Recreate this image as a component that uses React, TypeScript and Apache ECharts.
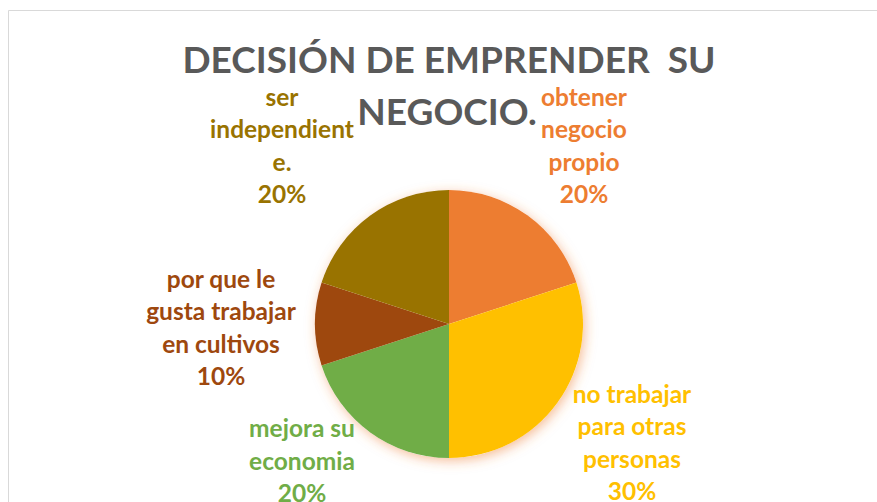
import React, { useEffect, useRef } from "react";
import * as echarts from "echarts";

const TITLE_LINES = ["DECISIÓN DE EMPRENDER  SU", "NEGOCIO."];
const CATEGORIES = [
  "obtener negocio propio",
  "no trabajar para otras personas",
  "mejora su economia",
  "por que le gusta trabajar en cultivos",
  "ser independiente.",
];
const VALUES = [20, 30, 20, 10, 20];
// label text as wrapped in the original
const WRAPPED = [
  "obtener\nnegocio\npropio",
  "no trabajar\npara otras\npersonas",
  "mejora su\neconomia",
  "por que le\ngusta trabajar\nen cultivos",
  "ser\nindependient\ne.",
];
const COLORS = ["#ED7D31", "#FFC000", "#70AD47", "#9E480E", "#997300"];
const LABEL_POS: [number, number][] = [
  [584, 145],
  [632, 442],
  [302, 460],
  [221, 327],
  [282, 145],
];

const FONT = "Lato, 'Open Sans', sans-serif";

export default function App() {
  const ref = useRef<HTMLDivElement>(null);
  useEffect(() => {
    const chart = echarts.init(ref.current!, undefined, { renderer: "svg" });
    const total = VALUES.reduce((a, b) => a + b, 0);
    chart.setOption({
      animation: false,
      backgroundColor: "#ffffff",
      graphic: [
        {
          type: "rect",
          shape: { x: 8.5, y: 10.5, width: 1000, height: 700 },
          style: { fill: "none", stroke: "#d9d9d9", lineWidth: 1 },
          z: 0,
        },
        {
          type: "text",
          x: 449,
          y: 58,
          style: {
            text: TITLE_LINES[0],
            fill: "#595959",
            font: `bold 37px ${FONT}`,
            textAlign: "center",
            textVerticalAlign: "middle",
          },
          z: 10,
        },
        {
          type: "text",
          x: 447,
          y: 110,
          style: {
            text: TITLE_LINES[1],
            fill: "#595959",
            font: `bold 37px ${FONT}`,
            textAlign: "center",
            textVerticalAlign: "middle",
          },
          z: 10,
        },
      ],
      series: [
        {
          type: "pie",
          silent: true,
          center: [449, 324],
          radius: 134,
          z: 1,
          label: { show: false },
          labelLine: { show: false },
          itemStyle: {
            color: "#ffffff",
            shadowBlur: 12,
            shadowColor: "rgba(237,125,49,0.5)",
            shadowOffsetX: 2,
            shadowOffsetY: 3,
          },
          data: [{ value: 1, name: "" }],
        },
        {
          type: "pie",
          center: [449, 324],
          radius: 134,
          startAngle: 90,
          clockwise: true,
          z: 2,
          itemStyle: { borderWidth: 0 },
          labelLine: { show: false },
          label: {
            show: true,
            position: "outside",
            fontFamily: FONT,
            fontWeight: "bold",
            fontSize: 24.5,
            lineHeight: 32.5,
            align: "center",
            formatter: (p: any) =>
              `${WRAPPED[p.dataIndex]}\n${Math.round((p.value / total) * 100)}%`,
          },
          labelLayout: (p: any) => ({
            x: LABEL_POS[p.dataIndex][0],
            y: LABEL_POS[p.dataIndex][1],
            align: "center",
            verticalAlign: "middle",
          }),
          data: CATEGORIES.map((name, i) => ({
            name,
            value: VALUES[i],
            itemStyle: { color: COLORS[i] },
            label: { color: COLORS[i] },
          })),
        },
      ],
    });
    return () => chart.dispose();
  }, []);
  return (
    <div
      ref={ref}
      style={{ position: "fixed", left: 0, top: 0, width: 877, height: 502 }}
    />
  );
}
